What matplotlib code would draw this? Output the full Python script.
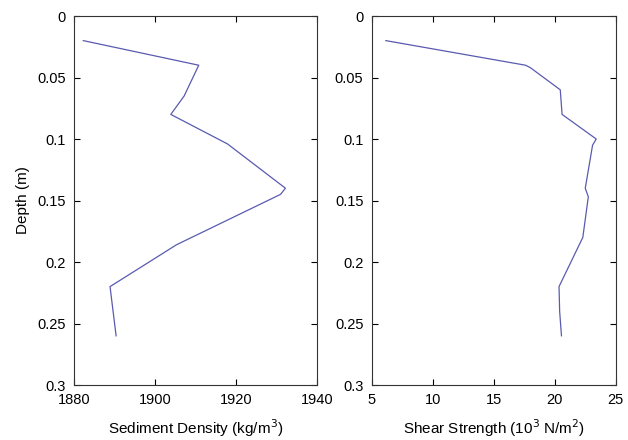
import matplotlib
matplotlib.use("Agg")
import matplotlib.pyplot as plt

plt.rcParams["font.family"] = ["Liberation Sans", "DejaVu Sans"]
plt.rcParams["font.size"] = 10

# depth profiles
density_depth = [0.02, 0.04, 0.065, 0.08, 0.104, 0.14, 0.145, 0.186, 0.22, 0.26]
density = [1882.3, 1910.8, 1907.2, 1903.9, 1917.9, 1932.2, 1931.0, 1905.3, 1888.9, 1890.4]

shear_depth = [0.02, 0.04, 0.042, 0.06, 0.08, 0.10, 0.105, 0.14, 0.147, 0.18, 0.22, 0.24, 0.26]
shear = [6.15, 17.6, 18.0, 20.45, 20.6, 23.4, 23.1, 22.5, 22.75, 22.3, 20.35, 20.4, 20.55]

LINE_COLOR = "#5a5ab0"

fig = plt.figure(figsize=(6.28, 4.4), dpi=100)
ax1 = fig.add_axes([0.1178, 0.125, 0.387, 0.8386])
ax2 = fig.add_axes([0.592, 0.125, 0.3885, 0.8386])

ax1.plot(density, density_depth, color=LINE_COLOR, linewidth=0.9)
ax1.set_xlim(1880, 1940)
ax1.set_xticks([1880, 1900, 1920, 1940])
ax1.set_xlabel("Sediment Density (kg/m$^3$)", fontsize=11, labelpad=7)
ax1.set_ylabel("Depth (m)", fontsize=11, labelpad=5)

ax2.plot(shear, shear_depth, color=LINE_COLOR, linewidth=0.9)
ax2.set_xlim(5, 25)
ax2.set_xticks([5, 10, 15, 20, 25])
ax2.set_xlabel("Shear Strength (10$^3$ N/m$^2$)", fontsize=11, labelpad=7)

for ax in (ax1, ax2):
    ax.set_ylim(0.3, 0)
    ax.set_yticks([0, 0.05, 0.1, 0.15, 0.2, 0.25, 0.3])
    ax.set_yticklabels(["0", "0.05", "0.1", "0.15", "0.2", "0.25", "0.3"])
    ax.tick_params(direction="in", top=True, right=True, length=4, width=0.8,
                   labelsize=10.5, pad=6)
    for spine in ax.spines.values():
        spine.set_linewidth(0.8)
        spine.set_color("#333333")

fig.savefig("out.png", dpi=100)
